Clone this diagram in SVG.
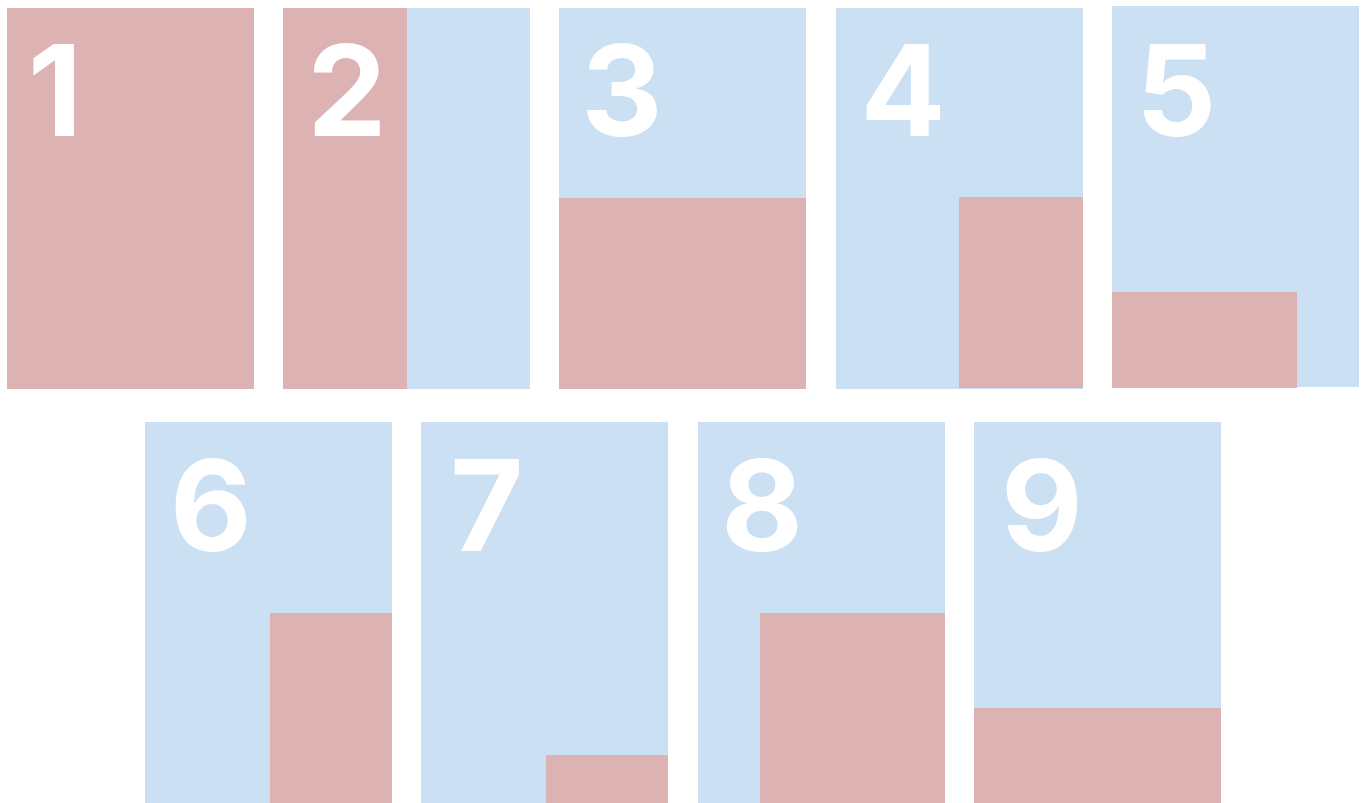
<svg xmlns="http://www.w3.org/2000/svg" width="1362" height="803" viewBox="0 0 1362 803">
<style>
.b{fill:#cce0f4}
.p{fill:#dcb3b2}
.n{fill:#ffffff;font-family:Inter,"Liberation Sans",sans-serif;font-weight:700;font-size:126px;text-anchor:middle}
</style>
<rect width="1362" height="803" fill="#ffffff"/>
<g id="panel1"><rect class="p" x="7" y="8" width="247" height="381"/><text class="n" x="55" y="136">1</text></g>
<g id="panel2"><rect class="b" x="283" y="8" width="247" height="381"/><rect class="p" x="283" y="8" width="124" height="381"/><text class="n" x="347" y="136">2</text></g>
<g id="panel3"><rect class="b" x="559" y="8" width="247" height="381"/><rect class="p" x="559" y="198" width="247" height="191"/><text class="n" x="622" y="136">3</text></g>
<g id="panel4"><rect class="b" x="836" y="8" width="247" height="381"/><rect class="p" x="959" y="197" width="124" height="191"/><text class="n" x="903" y="136">4</text></g>
<g id="panel5"><rect class="b" x="1112" y="6" width="247" height="381"/><rect class="p" x="1112" y="292" width="185" height="96"/><text class="n" x="1176" y="136">5</text></g>
<g id="panel6"><rect class="b" x="145" y="422" width="247" height="381"/><rect class="p" x="270" y="613" width="122" height="190"/><text class="n" x="211" y="551">6</text></g>
<g id="panel7"><rect class="b" x="421" y="422" width="247" height="381"/><rect class="p" x="546" y="755" width="122" height="48"/><text class="n" x="487" y="551">7</text></g>
<g id="panel8"><rect class="b" x="698" y="422" width="247" height="381"/><rect class="p" x="760" y="613" width="185" height="190"/><text class="n" x="762" y="551">8</text></g>
<g id="panel9"><rect class="b" x="974" y="422" width="247" height="381"/><rect class="p" x="974" y="708" width="247" height="95"/><text class="n" x="1042" y="551">9</text></g>
</svg>
